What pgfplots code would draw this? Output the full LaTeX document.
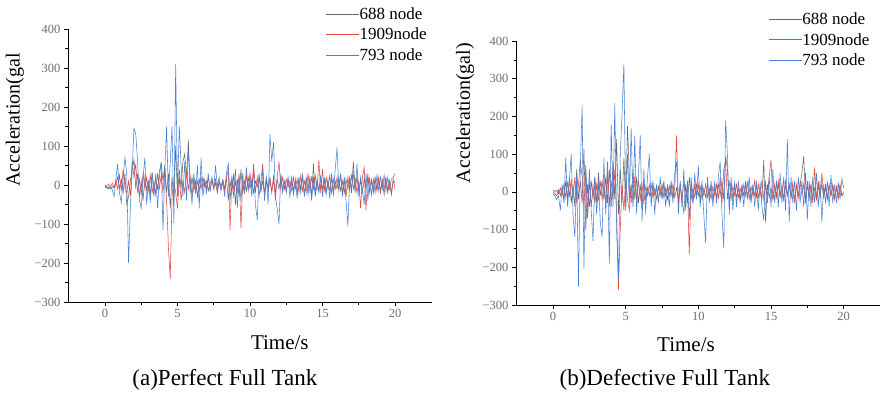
\documentclass[border=0pt]{standalone}
\usepackage{pgfplots}
\usepackage{pgfplotstable}
\pgfplotsset{compat=1.18}
\usepackage{fontspec}
\setmainfont{Liberation Serif}
\definecolor{cgray}{RGB}{105,105,105}
\definecolor{cred}{RGB}{228,70,70}
\definecolor{cblue}{RGB}{70,130,215}
\definecolor{ticklab}{RGB}{110,110,110}

\pgfplotstableread{
t g r b
0.000 -5 0 -3
0.125 -8 -5 -6
0.250 -6 2 -10
0.375 -10 -4 -4
0.500 -4 5 -12
0.625 -8 -6 -30
0.750 5 10 15
0.875 20 -10 55
1.000 -10 25 -20
1.125 15 -15 -45
1.250 -20 40 20
1.375 30 -5 70
1.500 -50 -20 30
1.625 -30 10 -200
1.750 10 -30 -60
1.875 40 60 40
2.000 65 20 145
2.125 -10 55 130
2.250 30 -20 60
2.375 -30 15 -40
2.500 10 -25 -60
2.625 -40 30 20
2.750 20 -10 70
2.875 -15 20 -50
3.000 10 -15 10
3.125 -25 25 -45
3.250 30 -20 35
3.375 -20 10 -30
3.500 15 -25 30
3.625 -10 30 -60
3.750 35 -10 20
3.875 55 25 60
4.000 10 -20 -115
4.125 50 40 40
4.250 -20 -40 150
4.375 30 -160 -30
4.500 -60 -240 60
4.625 20 -30 150
4.750 -40 10 -100
4.875 100 -20 310
5.000 -30 -60 -20
5.125 40 20 150
5.250 -10 -40 50
5.375 60 10 -30
5.500 80 -20 60
5.625 20 30 -40
5.750 115 -10 90
5.875 -20 20 10
6.000 20 -30 -50
6.125 -15 15 30
6.250 10 -20 -20
6.375 -30 10 50
6.500 15 -15 -60
6.625 -10 20 70
6.750 20 -5 -30
6.875 -5 15 10
7.000 10 -10 -20
7.125 -15 20 30
7.250 5 -15 -15
7.375 15 10 20
7.500 -10 -5 -10
7.625 5 15 50
7.750 -20 -10 -5
7.875 10 5 20
8.000 -5 -10 -15
8.125 15 10 10
8.250 -10 -15 -30
8.375 20 15 30
8.500 -40 40 55
8.625 10 -115 -40
8.750 -20 20 20
8.875 30 -30 -10
9.000 -50 10 40
9.125 15 -20 -60
9.250 -30 30 20
9.375 40 -110 -40
9.500 -20 10 30
9.625 10 -20 -20
9.750 -15 25 45
9.875 20 -15 -10
10.000 -10 30 20
10.125 15 -10 -30
10.250 -20 55 40
10.375 10 -20 -50
10.500 -5 20 -90
10.625 20 -30 30
10.750 -15 10 -20
10.875 10 55 40
11.000 -20 -30 -40
11.125 15 20 20
11.250 -10 -15 -50
11.375 20 10 130
11.500 -15 -20 60
11.625 10 25 110
11.750 -20 -40 -30
11.875 15 20 -60
12.000 -10 60 -100
12.125 20 -10 30
12.250 -15 20 -20
12.375 10 -10 10
12.500 -20 15 -15
12.625 15 -5 20
12.750 -10 10 -30
12.875 20 -15 10
13.000 -15 20 -25
13.125 10 -10 15
13.250 -20 15 -35
13.375 15 -20 20
13.500 -10 25 -20
13.625 20 -15 30
13.750 -25 10 -30
13.875 15 -20 20
14.000 -10 30 -25
14.125 20 -15 15
14.250 -30 20 -40
14.375 55 -10 20
14.500 -20 25 -30
14.625 10 -15 15
14.750 -15 65 -20
14.875 20 -20 25
15.000 -10 40 -30
15.125 15 -15 20
15.250 -20 20 -25
15.375 10 -10 15
15.500 -15 25 -35
15.625 20 -20 30
15.750 -25 15 -20
15.875 10 -10 40
16.000 -10 20 95
16.125 20 -15 -10
16.250 -15 25 30
16.375 10 -20 -30
16.500 -20 15 20
16.625 15 -30 -40
16.750 -10 20 -105
16.875 20 -15 20
17.000 -20 25 -10
17.125 60 -10 30
17.250 -10 15 -20
17.375 20 -20 55
17.500 -15 10 -30
17.625 10 -60 20
17.750 -20 20 -10
17.875 15 45 -50
18.000 -10 -65 30
18.125 20 30 -40
18.250 -15 -20 20
18.375 10 15 -25
18.500 -20 -10 15
18.625 15 20 -20
18.750 -10 -15 25
18.875 20 10 -15
19.000 -15 -20 20
19.125 10 15 -10
19.250 -25 -10 25
19.375 15 20 -15
19.500 -20 -15 20
19.625 10 10 -10
19.750 -25 -20 15
19.875 10 15 20
20.000 5 -10 30
}\perfect

\pgfplotstableread{
t g r b
0.000 0 5 -5
0.125 -5 0 -10
0.250 -10 5 -20
0.375 5 -5 -10
0.500 -10 10 -50
0.625 10 -10 20
0.750 -20 20 -30
0.875 30 -15 90
1.000 -20 25 -40
1.125 40 -10 30
1.250 -30 30 100
1.375 20 -20 -60
1.500 -40 40 -120
1.625 60 -30 50
1.750 -20 20 -250
1.875 30 85 60
2.000 -30 40 230
2.125 115 -40 -205
2.250 -100 60 70
2.375 20 -70 -60
2.500 -40 30 60
2.625 30 -40 -50
2.750 -20 20 -130
2.875 40 -30 40
3.000 -30 20 -60
3.125 50 -20 30
3.250 -10 30 -80
3.375 30 -20 -120
3.500 -20 20 90
3.625 40 -30 -60
3.750 -30 80 60
3.875 60 -40 -190
4.000 -40 30 180
4.125 80 -20 -40
4.250 -20 60 235
4.375 140 -60 -100
4.500 -60 -260 -235
4.625 60 -100 100
4.750 -30 20 210
4.875 90 -50 340
5.000 -40 30 -50
5.125 175 -20 100
5.250 40 -50 -30
5.375 -30 20 170
5.500 60 -30 -40
5.625 -20 40 150
5.750 40 -20 -60
5.875 -30 30 40
6.000 20 -20 150
6.125 -40 20 -80
6.250 30 -30 60
6.375 -20 15 -60
6.500 10 -10 40
6.625 -10 20 100
6.750 20 -15 -40
6.875 -15 20 30
7.000 10 -10 -60
7.125 -20 15 20
7.250 15 -20 -30
7.375 -10 10 40
7.500 20 -15 -20
7.625 -15 20 30
7.750 10 -10 -40
7.875 -20 15 20
8.000 15 -10 -40
8.125 -10 20 30
8.250 20 -15 -30
8.375 -15 10 50
8.500 10 150 80
8.625 -20 -30 -60
8.750 15 20 30
8.875 -25 -20 -40
9.000 -55 30 60
9.125 20 -20 -50
9.250 -30 15 30
9.375 40 -165 -75
9.500 -20 20 40
9.625 10 -30 -30
9.750 -15 20 50
9.875 20 -15 -20
10.000 -10 20 70
10.125 15 -20 -40
10.250 -20 15 30
10.375 10 -10 -60
10.500 -15 20 -135
10.625 20 -15 40
10.750 -10 10 -30
10.875 15 -20 30
11.000 -20 15 -40
11.125 10 -10 30
11.250 -15 20 -30
11.375 20 -20 40
11.500 -10 40 80
11.625 30 -30 -60
11.750 -20 60 -150
11.875 95 80 190
12.000 60 -20 100
12.125 -30 30 -60
12.250 20 -20 40
12.375 -20 15 -50
12.500 15 -10 30
12.625 -15 20 -40
12.750 10 -15 30
12.875 -20 10 -30
13.000 15 -15 20
13.125 -10 20 -40
13.250 20 -10 30
13.375 -15 25 -20
13.500 10 -20 40
13.625 -20 15 -30
13.750 15 -10 20
13.875 -10 30 -40
14.000 20 -15 30
14.125 -15 20 -50
14.250 10 -10 25
14.375 -20 30 -40
14.500 85 -20 -75
14.625 -80 15 30
14.750 20 -10 -30
14.875 -15 40 40
15.000 10 85 -40
15.125 -20 -20 60
15.250 15 20 -30
15.375 -10 -15 30
15.500 20 30 -40
15.625 -15 -10 50
15.750 10 20 -30
15.875 -20 -20 40
16.000 15 30 -50
16.125 -10 -10 140
16.250 20 20 -80
16.375 -15 -15 40
16.500 10 25 -30
16.625 -20 -30 30
16.750 15 20 -50
16.875 -10 -15 40
17.000 20 25 -30
17.125 50 -10 30
17.250 95 20 -40
17.375 -20 -30 50
17.500 15 30 -75
17.625 -10 -20 30
17.750 20 15 -40
17.875 -15 -30 40
18.000 10 65 -30
18.125 -20 -20 50
18.250 15 30 -40
18.375 -10 -20 30
18.500 20 50 -80
18.625 -15 -10 20
18.750 10 20 -30
18.875 -20 -15 30
19.000 15 20 -40
19.125 -10 -10 45
19.250 20 15 -30
19.375 -15 -20 20
19.500 10 15 -30
19.625 -20 -10 25
19.750 15 20 -20
19.875 -10 -10 35
20.000 -5 0 10
}\defective

\pgfplotsset{
  tankaxis/.style={
    scale only axis,
    width=364pt,
    axis x line=bottom, axis y line=left,
    axis line style={-, line width=0.8pt, black},
    xmin=-2.55, xmax=22.55,
    ymin=-300, ymax=400,
    xtick={0,5,10,15,20},
    ytick={-300,-200,-100,0,100,200,300,400},
    yticklabels={−300,−200,−100,0,100,200,300,400},
    minor x tick num=1, minor y tick num=1,
    tick align=outside,
    major tick length=4pt, minor tick length=2.5pt,
    tick style={black, line width=0.6pt},
    tick label style={font=\fontsize{12.5}{14}\selectfont, text=ticklab},
    /pgf/number format/assume math mode=true,
    xlabel={Time/s},
    xlabel style={font=\fontsize{21}{24}\selectfont, anchor=center},
    ylabel style={font=\fontsize{20}{24}\selectfont, anchor=center},
    legend cell align=left,
    legend style={draw=none, fill=none, inner sep=0pt, row sep=6pt,
      font=\fontsize{17}{19}\selectfont, anchor=north west,
      nodes={inner sep=0.5pt}},
    every axis plot/.append style={line width=0.55pt},
  },
  gser/.style={cgray, no markers, legend image code/.code={\draw[cgray, line width=0.9pt] (0pt,0pt) -- (33pt,0pt);}},
  rser/.style={cred, no markers, legend image code/.code={\draw[cred, line width=0.9pt] (0pt,0pt) -- (33pt,0pt);}},
  bser/.style={cblue, no markers, legend image code/.code={\draw[cblue, line width=0.9pt] (0pt,0pt) -- (33pt,0pt);}},
}

\begin{document}
\begin{tikzpicture}
\useasboundingbox (0pt,0pt) rectangle (881pt,394pt);
\begin{axis}[tankaxis, height=273pt,
  at={(68pt,92pt)}, anchor=south west,
  ylabel={Acceleration(gal},
  xlabel style={at={(axis description cs:0.582,-0.150)}},
  ylabel style={at={(axis description cs:-0.146,0.667)}},
  legend style={at={(axis description cs:0.706,1.080)}},
  after end axis/.code={\node[font=\fontsize{23}{26}\selectfont] at (axis description cs:0.431,-0.286) {(a)Perfect Full Tank};},
]
\addplot[gser] table[x=t, y=g] {\perfect};
\addlegendentry{688 node}
\addplot[rser] table[x=t, y=r] {\perfect};
\addlegendentry{1909node}
\addplot[bser] table[x=t, y=b] {\perfect};
\addlegendentry{793 node}
\end{axis}
\begin{axis}[tankaxis, height=264pt,
  at={(516pt,89pt)}, anchor=south west,
  xmax=22.5,
  ylabel={Acceleration(gal)},
  xlabel style={at={(axis description cs:0.467,-0.152)}},
  ylabel style={at={(axis description cs:-0.14,0.727)}},
  legend style={at={(axis description cs:0.692,1.109)}},
  after end axis/.code={\node[font=\fontsize{23}{26}\selectfont] at (axis description cs:0.409,-0.284) {(b)Defective Full Tank};},
]
\addplot[gser] table[x=t, y=g] {\defective};
\addlegendentry{688 node}
\addplot[rser] table[x=t, y=r] {\defective};
\addlegendentry{1909node}
\addplot[bser] table[x=t, y=b] {\defective};
\addlegendentry{793 node}
\end{axis}
\end{tikzpicture}
\end{document}
